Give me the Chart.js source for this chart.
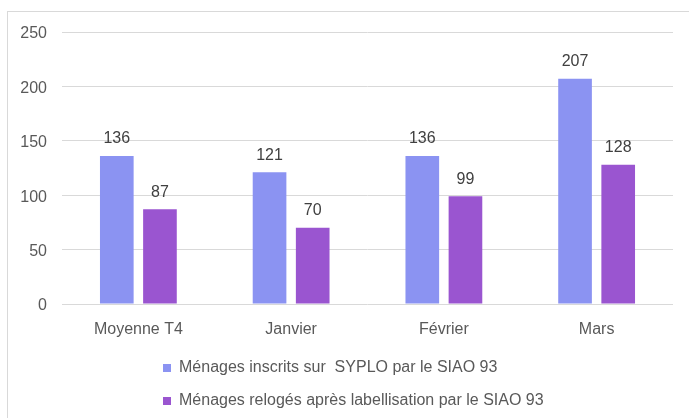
<!DOCTYPE html>
<html>
<head>
<meta charset="utf-8">
<script src="https://cdn.jsdelivr.net/npm/chart.js@4.4.1/dist/chart.umd.min.js"></script>
<style>
    body { margin: 0; background: #fff; }
    #frame { position: absolute; left: 7px; top: 11px; width: 800px; height: 500px; border: 1px solid #d9d9d9; }
    #resultsChart { position: absolute; left: 0; top: 0; }
</style>
</head>
<body>
<div id="frame"></div>
<canvas id="resultsChart" width="689" height="418"></canvas>
<script>
const months = ['Moyenne T4', 'Janvier', 'Février', 'Mars'];
const inscrits = [136, 121, 136, 207];
const reloges = [87, 70, 99, 128];
const seriesNames = [
    'Ménages inscrits sur  SYPLO par le SIAO 93',
    'Ménages relogés après labellisation par le SIAO 93'
];
const yTicks = [0, 50, 100, 150, 200, 250];

const font = 'Liberation Sans';

// values over the bars
const barValues = {
    id: 'barValues',
    afterDatasetsDraw(chart) {
        const c = chart.ctx;
        c.save();
        c.font = '16px "' + font + '"';
        c.fillStyle = '#404040';
        c.textAlign = 'center';
        c.textBaseline = 'middle';
        chart.data.datasets.forEach((ds, i) => {
            chart.getDatasetMeta(i).data.forEach((bar, j) => {
                c.fillText(ds.data[j], bar.x, bar.y - 17);
            });
        });
        c.restore();
    }
};

// legend sits left-aligned under the plot, two rows
const legendPos = {
    id: 'legendPos',
    afterLayout(chart) {
        const lg = chart.legend;
        lg.left = 146;
        lg.right = 689;
        lg.top = 343;
        lg.bottom = 418;
    }
};

var ctx = document.getElementById('resultsChart').getContext('2d');
new Chart(ctx, {
    type: 'bar',
    data: {
        labels: months,
        datasets: [{
            label: seriesNames[0],
            data: inscrits,
            backgroundColor: '#8b93f2',
            categoryPercentage: 0.565,
            barPercentage: 0.78
        }, {
            label: seriesNames[1],
            data: reloges,
            backgroundColor: '#9a55d0',
            categoryPercentage: 0.565,
            barPercentage: 0.78
        }]
    },
    options: {
        responsive: false,
        animation: false,
        devicePixelRatio: 1,
        layout: { padding: { top: 32, right: 16, left: 0, bottom: 0 } },
        plugins: {
            tooltip: { enabled: false },
            legend: {
                position: 'bottom',
                align: 'start',
                labels: {
                    boxWidth: 8,
                    boxHeight: 8,
                    padding: 17,
                    color: '#595959',
                    font: { family: font, size: 16 }
                }
            }
        },
        scales: {
            x: {
                grid: { display: false },
                border: { display: false },
                ticks: { color: '#595959', padding: 8, font: { family: font, size: 16 } },
                afterFit(scale) {
                    scale.height = 418 - 304 - scale.chart.legend.height;
                }
            },
            y: {
                min: 0,
                max: 250,
                afterBuildTicks(scale) {
                    scale.ticks = yTicks.map(v => ({ value: v }));
                },
                grid: { color: '#d9d9d9', drawTicks: false },
                border: { display: false },
                ticks: { color: '#595959', padding: 15, labelOffset: 2, font: { family: font, size: 16 } },
                afterFit(scale) {
                    scale.width = 62;
                }
            }
        }
    },
    plugins: [barValues, legendPos]
});
</script>
</body>
</html>
